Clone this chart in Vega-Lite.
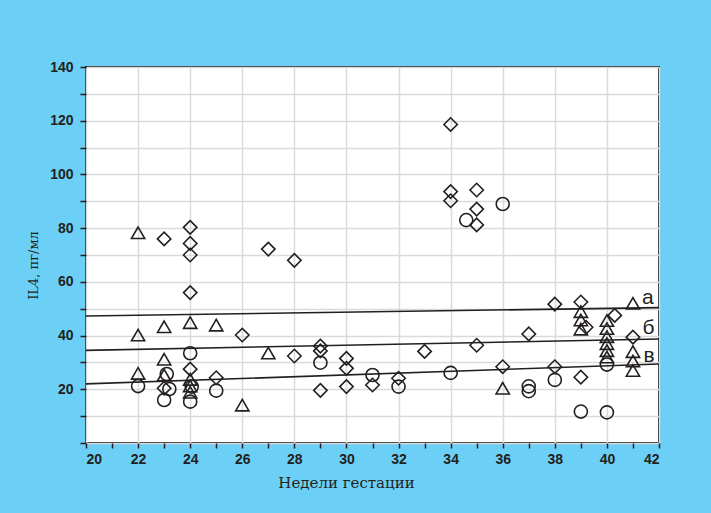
{
  "$schema": "https://vega.github.io/schema/vega-lite/v6.json",
  "width": 573,
  "height": 376,
  "autosize": {"type": "none"},
  "padding": {"left": 86, "top": 67, "right": 52, "bottom": 70},
  "background": "#6ccff6",
  "config": {
    "view": {"fill": "white", "stroke": "#231f20", "strokeWidth": 2},
    "axis": {
      "domain": false,
      "grid": true,
      "gridColor": "#dadada",
      "gridWidth": 1.5,
      "tickColor": "#231f20",
      "tickWidth": 1.5,
      "labelFont": "Liberation Sans",
      "labelFontWeight": "bold",
      "labelFontSize": 14,
      "labelColor": "#231f20",
      "labelOverlap": false,
      "titleFont": "DejaVu Serif",
      "titleFontWeight": "normal",
      "titleColor": "#231f20"
    }
  },
  "datasets": {
    "points": [
      {"x": 23, "y": 76, "group": "а"},
      {"x": 24, "y": 80.3, "group": "а"},
      {"x": 24, "y": 74.3, "group": "а"},
      {"x": 24, "y": 70, "group": "а"},
      {"x": 24, "y": 56, "group": "а"},
      {"x": 24, "y": 27.5, "group": "а"},
      {"x": 23, "y": 20.4, "group": "а"},
      {"x": 25, "y": 24.3, "group": "а"},
      {"x": 26, "y": 40.2, "group": "а"},
      {"x": 27, "y": 72.2, "group": "а"},
      {"x": 28, "y": 68, "group": "а"},
      {"x": 28, "y": 32.4, "group": "а"},
      {"x": 29, "y": 36.1, "group": "а"},
      {"x": 29, "y": 34.3, "group": "а"},
      {"x": 29, "y": 19.6, "group": "а"},
      {"x": 30, "y": 31.5, "group": "а"},
      {"x": 30, "y": 27.8, "group": "а"},
      {"x": 30, "y": 21.0, "group": "а"},
      {"x": 31, "y": 21.6, "group": "а"},
      {"x": 32, "y": 24.1, "group": "а"},
      {"x": 33, "y": 34.1, "group": "а"},
      {"x": 34, "y": 118.6, "group": "а"},
      {"x": 34, "y": 93.6, "group": "а"},
      {"x": 34, "y": 90.2, "group": "а"},
      {"x": 35, "y": 94.2, "group": "а"},
      {"x": 35, "y": 87.1, "group": "а"},
      {"x": 35, "y": 81.2, "group": "а"},
      {"x": 35, "y": 36.4, "group": "а"},
      {"x": 36, "y": 28.4, "group": "а"},
      {"x": 37, "y": 40.6, "group": "а"},
      {"x": 38, "y": 51.7, "group": "а"},
      {"x": 38, "y": 28.4, "group": "а"},
      {"x": 39, "y": 52.5, "group": "а"},
      {"x": 39, "y": 24.5, "group": "а"},
      {"x": 39.2, "y": 43.1, "group": "а"},
      {"x": 40.3, "y": 47.5, "group": "а"},
      {"x": 41, "y": 39.4, "group": "а"},
      {"x": 22, "y": 78.3, "group": "б"},
      {"x": 22, "y": 40.2, "group": "б"},
      {"x": 22, "y": 25.9, "group": "б"},
      {"x": 23, "y": 43.3, "group": "б"},
      {"x": 23, "y": 31.2, "group": "б"},
      {"x": 23, "y": 25.3, "group": "б"},
      {"x": 24, "y": 44.8, "group": "б"},
      {"x": 24, "y": 23.7, "group": "б"},
      {"x": 24, "y": 21.2, "group": "б"},
      {"x": 24, "y": 18.9, "group": "б"},
      {"x": 25, "y": 43.9, "group": "б"},
      {"x": 26, "y": 14.1, "group": "б"},
      {"x": 27, "y": 33.5, "group": "б"},
      {"x": 36, "y": 20.4, "group": "б"},
      {"x": 39, "y": 48.9, "group": "б"},
      {"x": 39, "y": 45.8, "group": "б"},
      {"x": 39, "y": 42.4, "group": "б"},
      {"x": 40, "y": 45.6, "group": "б"},
      {"x": 40, "y": 42.6, "group": "б"},
      {"x": 40, "y": 39.6, "group": "б"},
      {"x": 40, "y": 37.0, "group": "б"},
      {"x": 40, "y": 34.4, "group": "б"},
      {"x": 40, "y": 32.0, "group": "б"},
      {"x": 41, "y": 52.0, "group": "б"},
      {"x": 41, "y": 34.0, "group": "б"},
      {"x": 41, "y": 30.5, "group": "б"},
      {"x": 41, "y": 27.0, "group": "б"},
      {"x": 22, "y": 21.2, "group": "в"},
      {"x": 23.1, "y": 25.7, "group": "в"},
      {"x": 23.2, "y": 20.1, "group": "в"},
      {"x": 23, "y": 16, "group": "в"},
      {"x": 24, "y": 33.4, "group": "в"},
      {"x": 24.06, "y": 21, "group": "в"},
      {"x": 24, "y": 15.4, "group": "в"},
      {"x": 25, "y": 19.5, "group": "в"},
      {"x": 29, "y": 29.9, "group": "в"},
      {"x": 31, "y": 25.3, "group": "в"},
      {"x": 32, "y": 21.0, "group": "в"},
      {"x": 34, "y": 26.1, "group": "в"},
      {"x": 34.6, "y": 83.0, "group": "в"},
      {"x": 36, "y": 89.0, "group": "в"},
      {"x": 37, "y": 21.1, "group": "в"},
      {"x": 37, "y": 19.3, "group": "в"},
      {"x": 38, "y": 23.5, "group": "в"},
      {"x": 39, "y": 11.7, "group": "в"},
      {"x": 40, "y": 29.2, "group": "в"},
      {"x": 40, "y": 11.4, "group": "в"}
    ],
    "lines": [
      {"x": 20, "y": 47.3, "group": "а"},
      {"x": 42, "y": 50.4, "group": "а"},
      {"x": 20, "y": 34.5, "group": "б"},
      {"x": 42, "y": 38.7, "group": "б"},
      {"x": 20, "y": 22.0, "group": "в"},
      {"x": 42, "y": 29.4, "group": "в"}
    ],
    "labels": [
      {"x": 41.57, "y": 54.0, "label": "а"},
      {"x": 41.6, "y": 42.7, "label": "б"},
      {"x": 41.62, "y": 32.4, "label": "в"}
    ]
  },
  "encoding": {
    "x": {
      "field": "x",
      "type": "quantitative",
      "scale": {"domain": [20, 42], "nice": false, "zero": false},
      "axis": {
        "values": [20, 21, 22, 23, 24, 25, 26, 27, 28, 29, 30, 31, 32, 33, 34, 35, 36, 37, 38, 39, 40, 41, 42],
        "labelExpr": "datum.value % 2 === 0 ? datum.label : ''",
        "gridOpacity": {"condition": {"test": "datum.value % 2 === 0", "value": 1}, "value": 0},
        "tickSize": 5,
        "labelPadding": 4,
        "title": "Недели гестации",
        "titleFontSize": 15,
        "titleX": 260,
        "titlePadding": 9
      }
    },
    "y": {
      "field": "y",
      "type": "quantitative",
      "scale": {"domain": [0, 140], "nice": false},
      "axis": {
        "values": [0, 10, 20, 30, 40, 50, 60, 70, 80, 90, 100, 110, 120, 130, 140],
        "labelExpr": "datum.value % 20 === 0 && datum.value > 0 ? datum.label : ''",
        "tickSize": 6,
        "labelPadding": 7,
        "title": "IL4, пг/мл",
        "titleFontSize": 13,
        "titleY": 198,
        "titlePadding": 9
      }
    }
  },
  "layer": [
    {
      "data": {"name": "lines"},
      "mark": {"type": "line", "color": "#231f20", "strokeWidth": 1.6},
      "encoding": {"detail": {"field": "group", "type": "nominal"}}
    },
    {
      "data": {"name": "points"},
      "mark": {"type": "point", "filled": false, "stroke": "#231f20", "strokeWidth": 1.6, "opacity": 1},
      "encoding": {
        "shape": {"field": "group", "type": "nominal", "scale": {"domain": ["а", "б", "в"], "range": ["diamond", "triangle-up", "circle"]}, "legend": null},
        "size": {"field": "group", "type": "nominal", "scale": {"domain": ["а", "б", "в"], "range": [180, 170, 120]}, "legend": null}
      }
    },
    {
      "data": {"name": "labels"},
      "mark": {"type": "text", "font": "Liberation Sans", "fontSize": 21, "color": "#231f20", "align": "center", "baseline": "middle"},
      "encoding": {"text": {"field": "label", "type": "nominal"}}
    }
  ]
}
